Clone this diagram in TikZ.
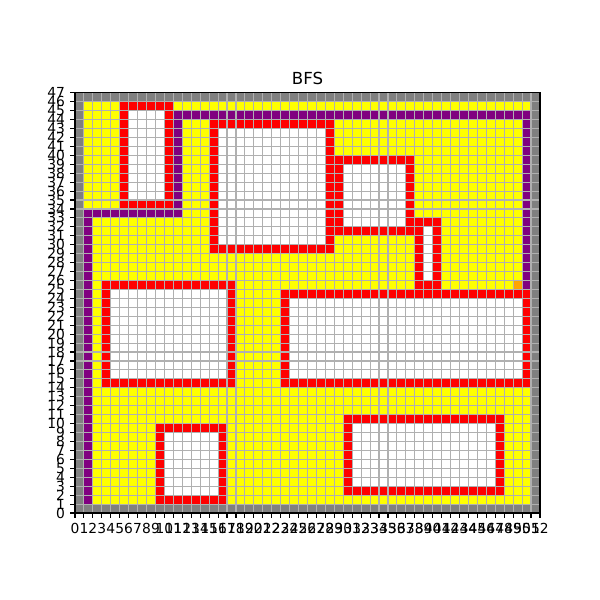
\documentclass[tikz,border=0pt]{standalone}
\usepackage{fontspec}
\setmainfont{DejaVu Sans}
\usepackage{tikz}
\usetikzlibrary{calc}
\definecolor{wallgray}{HTML}{808080}
\definecolor{seenyellow}{HTML}{FFFF00}
\definecolor{obsred}{HTML}{FF0000}
\definecolor{routepurple}{HTML}{800080}
\definecolor{goalorange}{HTML}{FFA500}
\definecolor{gridgray}{HTML}{B0B0B0}

\begin{document}
\begin{tikzpicture}[x=0.22712cm,y=0.22712cm,
    gridline/.style={gridgray,line width=0.8pt},
    tickline/.style={black,line width=0.8pt},
    ticklabel/.style={inner sep=0pt,font=\fontsize{10}{12}\selectfont}]
  \useasboundingbox (-8.387,-9.729) rectangle (58.71,57.37);
  \fill[wallgray] (0,0) rectangle (52,47);
  \fill[seenyellow] (1,1) rectangle (51,46);
  \foreach \xa/\ya/\xb/\yb in {5/34/10/45, 15/29/28/43, 29/31/37/39, 38/25/40/32,
      3/14/17/25, 23/14/50/24, 9/1/16/9, 30/2/47/10}{
    \fill[obsred] (\xa,\ya) rectangle (\xb+1,\yb+1);
    \fill[white] (\xa+1,\ya+1) rectangle (\xb,\yb);
  }
  \foreach \xa/\ya/\xb/\yb in {1/1/1/33, 1/33/11/33, 11/33/11/44, 11/44/50/44, 50/25/50/44}
    \fill[routepurple] (\xa,\ya) rectangle (\xb+1,\yb+1);
  \fill[goalorange] (49,25) rectangle (50,26);
  \foreach \i in {0,...,52}
    \draw[gridline] (\i,0) -- (\i,47);
  \foreach \j in {0,...,47}
    \draw[gridline] (0,\j) -- (52,\j);
  \draw[tickline] (0,0) rectangle (52,47);
  \foreach \i in {0,...,52}{
    \draw[tickline] (\i,0) -- ++(0,-3.5pt);
    \node[ticklabel,anchor=north,yshift=-7pt] (xl\i) at (\i,0) {\i};
  }
  \foreach \j in {0,...,47}{
    \draw[tickline] (0,\j) -- ++(-3.5pt,0);
    \node[ticklabel,anchor=east,xshift=-7pt] (yl\j) at (0,\j) {\j};
  }
  \node[inner sep=0pt,anchor=base,yshift=6pt,font=\fontsize{12}{14}\selectfont] (title) at (26,47) {BFS};
\end{tikzpicture}
\end{document}
